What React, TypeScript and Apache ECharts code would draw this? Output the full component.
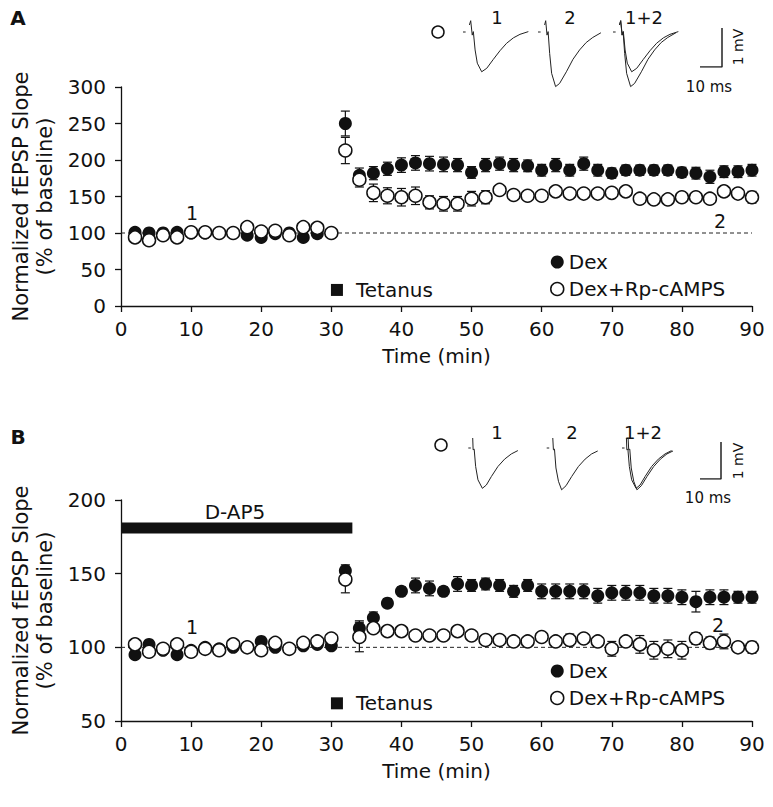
import React, { useEffect, useRef } from "react";
import * as echarts from "echarts";

const FONT = "'DejaVu Sans', 'Liberation Sans', Arial, sans-serif";

// time points (min)
const timePoints = [2, 4, 6, 8, 10, 12, 14, 16, 18, 20, 22, 24, 26, 28, 30, 32, 34, 36, 38, 40, 42, 44, 46, 48, 50, 52, 54, 56, 58, 60, 62, 64, 66, 68, 70, 72, 74, 76, 78, 80, 82, 84, 86, 88, 90];

// Panel A
const dexA = [101, 100, 100, 101, 100, 100, 100, 100, 97, 94, 99, 100, 94, 99, 100,
  250, 179, 182, 188, 193, 196, 195, 194, 193, 183, 193, 195, 193, 192, 186, 193, 186, 195, 186, 182, 186, 186, 186, 186, 183, 182, 177, 184, 184, 186];
const dexAErr = [2, 2, 2, 2, 2, 2, 2, 2, 2, 2, 2, 2, 2, 2, 2,
  17, 10, 9, 9, 10, 10, 10, 10, 9, 8, 9, 9, 9, 8, 8, 9, 8, 9, 8, 7, 7, 7, 7, 7, 7, 8, 9, 8, 8, 8];
const rpA = [94, 90, 97, 94, 101, 101, 100, 100, 108, 102, 103, 97, 108, 107, 100,
  213, 173, 155, 151, 149, 151, 142, 140, 140, 147, 149, 159, 152, 151, 151, 157, 154, 154, 154, 155, 157, 147, 146, 146, 149, 149, 147, 157, 154, 149];
const rpAErr = [2, 2, 2, 2, 2, 2, 2, 2, 2, 2, 2, 2, 2, 2, 2,
  18, 10, 12, 11, 12, 12, 9, 10, 10, 10, 9, 5, 5, 5, 5, 5, 5, 5, 5, 5, 5, 6, 6, 6, 6, 6, 6, 5, 6, 8];
const tetanusA = [[30.8, 22]];

// Panel B
const dexB = [95, 102, 98, 95, 98, 100, 99, 100, 100, 104, 100, 99, 101, 102, 101,
  152, 113, 120, 130, 138, 142, 140, 138, 143, 142, 143, 142, 138, 142, 138, 138, 138, 138, 135, 137, 137, 137, 135, 135, 134, 131, 134, 134, 134, 134];
const dexBErr = [2, 2, 2, 2, 2, 2, 2, 2, 2, 2, 2, 2, 2, 2, 2,
  4, 5, 4, 3, 3, 5, 5, 3, 5, 4, 4, 4, 4, 4, 5, 5, 5, 5, 5, 5, 5, 5, 5, 5, 5, 7, 5, 5, 4, 4];
const rpB = [102, 97, 99, 102, 97, 99, 98, 102, 100, 98, 103, 99, 103, 104, 106,
  146, 107, 113, 111, 111, 108, 108, 108, 111, 108, 105, 105, 104, 104, 107, 104, 105, 106, 104, 99, 104, 102, 98, 99, 98, 106, 103, 104, 100, 100];
const rpBErr = [2, 2, 2, 2, 2, 2, 2, 2, 2, 2, 2, 2, 2, 2, 2,
  9, 10, 3, 2, 2, 2, 2, 2, 2, 2, 2, 2, 2, 2, 2, 2, 4, 3, 3, 5, 3, 6, 6, 6, 6, 4, 4, 5, 3, 4];
const tetanusB = [[30.8, 62]];
const dap5Bar = [[0, 181], [33, 181]];

const baselineLevel = [[0, 100], [90, 100]];

// Example traces (ms, mV)
const traceDash = [[0, 0], [1.2, 0]];
const traceA1 = [[2.9, 0.18], [3.5, 0.29], [4.2, -0.08], [4.7, 0.01], [5.5, -0.46], [6.5, -0.8], [8.5, -1.02], [10.8, -0.93], [13.8, -0.7], [16.8, -0.48], [19.8, -0.29], [22.9, -0.15], [25.9, -0.06], [29.7, 0.01]];
const traceA2 = [[3.0, 0.18], [3.5, 0.29], [4.1, -0.08], [4.6, 0.01], [5.3, -0.55], [6.2, -1.06], [8.0, -1.4], [9.8, -1.32], [12.9, -1.02], [15.9, -0.7], [18.9, -0.46], [21.9, -0.27], [24.9, -0.14], [28.6, -0.02]];
const traceB1 = [[2.1, 0.27], [2.3, -0.05], [2.8, -0.03], [3.5, -0.5], [4.6, -0.86], [6.7, -1.09], [8.6, -1.0], [11, -0.77], [14.1, -0.5], [17.3, -0.3], [20.5, -0.16], [23.6, -0.07]];
const traceB2 = [[2.9, 0.27], [3.2, -0.05], [3.7, -0.03], [4.4, -0.54], [5.6, -0.9], [7.1, -1.13], [9.2, -1.02], [11.9, -0.77], [15.1, -0.5], [18.3, -0.3], [21.4, -0.16], [24.3, -0.08]];
const scaleBar = [[0, 0], [10, 0], [10, 1]];

const INK = "#111";

function pairs(t: number[], v: number[]) {
  return t.map((x, i) => [x, v[i]]);
}
function triples(t: number[], v: number[], e: number[]) {
  return t.map((x, i) => [x, v[i], e[i]]);
}

function errRender(params: any, api: any) {
  const x = api.value(0);
  const y = api.value(1);
  const e = api.value(2);
  const top = api.coord([x, y + e]);
  const bot = api.coord([x, y - e]);
  const w = 4.5;
  const style = { stroke: INK, lineWidth: 1.2 };
  return {
    type: "group",
    children: [
      { type: "line", shape: { x1: top[0], y1: top[1], x2: bot[0], y2: bot[1] }, style },
      { type: "line", shape: { x1: top[0] - w, y1: top[1], x2: top[0] + w, y2: top[1] }, style },
      { type: "line", shape: { x1: bot[0] - w, y1: bot[1], x2: bot[0] + w, y2: bot[1] }, style },
    ],
  };
}

function mainX(gridIndex: number) {
  return {
    type: "value", gridIndex, min: 0, max: 90, interval: 10,
    axisLine: { show: true, onZero: false, lineStyle: { color: INK, width: 1.3 } },
    axisTick: { show: true, length: 6, lineStyle: { color: INK, width: 1.3 } },
    axisLabel: { fontSize: 20, color: INK, margin: 13, fontFamily: FONT },
    splitLine: { show: false },
    name: "Time (min)", nameLocation: "middle", nameGap: 40,
    nameTextStyle: { fontSize: 20, color: INK, fontFamily: FONT },
  };
}
function mainY(gridIndex: number, min: number, max: number) {
  return {
    type: "value", gridIndex, min, max, interval: 50,
    axisLine: { show: true, onZero: false, lineStyle: { color: INK, width: 1.3 } },
    axisTick: { show: true, length: 6, lineStyle: { color: INK, width: 1.3 } },
    axisLabel: { fontSize: 20, color: INK, margin: 15, fontFamily: FONT },
    splitLine: { show: false },
    name: "Normalized fEPSP Slope\n(% of baseline)", nameLocation: "middle", nameGap: 56,
    nameTextStyle: { fontSize: 21, color: INK, lineHeight: 24, fontFamily: FONT },
  };
}
function hiddenAxis(gridIndex: number, min: number, max: number) {
  return { type: "value", gridIndex, min, max, show: false, splitLine: { show: false } };
}

function traceSeries(idx: number, data: number[][], width = 1) {
  return {
    type: "line", xAxisIndex: idx, yAxisIndex: idx, data, symbol: "none", silent: true,
    lineStyle: { color: "#222", width }, z: 5,
  };
}

function panelSeries(idx: number, dex: number[], dexErr: number[], rp: number[], rpErr: number[], tet: number[][]) {
  return [
    {
      type: "line", xAxisIndex: idx, yAxisIndex: idx, data: baselineLevel, symbol: "none", silent: true,
      lineStyle: { color: "#222", width: 1, type: [4, 3] }, z: 1,
    },
    {
      type: "custom", name: "errDex" + idx, xAxisIndex: idx, yAxisIndex: idx, renderItem: errRender,
      data: triples(timePoints, dex, dexErr), encode: { x: 0, y: 1 }, z: 2, silent: true,
    },
    {
      type: "scatter", name: "Dex", xAxisIndex: idx, yAxisIndex: idx, data: pairs(timePoints, dex),
      symbol: "circle", symbolSize: 13, itemStyle: { color: INK, opacity: 1 }, z: 3, silent: true,
    },
    {
      type: "custom", name: "errRp" + idx, xAxisIndex: idx, yAxisIndex: idx, renderItem: errRender,
      data: triples(timePoints, rp, rpErr), encode: { x: 0, y: 1 }, z: 4, silent: true,
    },
    {
      type: "scatter", name: "Dex+Rp-cAMPS", xAxisIndex: idx, yAxisIndex: idx, data: pairs(timePoints, rp),
      symbol: "circle", symbolSize: 13, itemStyle: { color: "#fff", borderColor: INK, borderWidth: 1.5, opacity: 1 }, z: 5, silent: true,
    },
    {
      type: "scatter", name: "Tetanus" + idx, xAxisIndex: idx, yAxisIndex: idx, data: tet,
      symbol: "rect", symbolSize: 12, itemStyle: { color: INK, opacity: 1 }, z: 5, silent: true,
      label: { show: true, position: "right", distance: 13, formatter: "Tetanus", fontSize: 20, color: INK, fontFamily: FONT },
    },
  ];
}

function txt(x: number, y: number, text: string, size: number, extra: any = {}) {
  const { style, ...rest } = extra;
  return {
    type: "text", x, y, silent: true, ...rest,
    style: { text, fill: INK, fontSize: size, fontFamily: FONT, align: "center", verticalAlign: "middle", ...(style || {}) },
  };
}

export default function App() {
  const ref = useRef<HTMLDivElement>(null);
  useEffect(() => {
    if (!ref.current) return;
    const chart = echarts.init(ref.current, null, { renderer: "svg" });

    // grids: 0 A main, 1 B main, 2-4 A traces, 5-7 B traces, 8 A scale, 9 B scale
    const grids = [
      { left: 121, top: 87, width: 631, height: 219 },
      { left: 121, top: 500, width: 631, height: 221 },
      { left: 460.8, top: 16.4, width: 70.4, height: 78 },
      { left: 535.8, top: 16.4, width: 70.4, height: 78 },
      { left: 610.8, top: 16.4, width: 70.4, height: 78 },
      { left: 466.2, top: 433.2, width: 67.2, height: 74 },
      { left: 544.6, top: 433.2, width: 67.2, height: 74 },
      { left: 619.9, top: 433.2, width: 67.2, height: 74 },
      { left: 700, top: 28, width: 22, height: 39 },
      { left: 700, top: 442, width: 21, height: 37 },
    ];
    const xAxes: any[] = [mainX(0), mainX(1)];
    const yAxes: any[] = [mainY(0, 0, 300), mainY(1, 50, 200)];
    for (let i = 2; i <= 7; i++) {
      xAxes.push(hiddenAxis(i, -1, 31));
      yAxes.push(hiddenAxis(i, -1.6, 0.4));
    }
    xAxes.push(hiddenAxis(8, 0, 10), hiddenAxis(9, 0, 10));
    yAxes.push(hiddenAxis(8, 0, 1), hiddenAxis(9, 0, 1));

    const legendData = [
      { name: "Dex", icon: "circle", itemStyle: { color: INK, opacity: 1 } },
      { name: "Dex+Rp-cAMPS", icon: "circle", itemStyle: { color: "#fff", borderColor: INK, borderWidth: 1.5, opacity: 1 } },
    ];
    const legendBase = {
      orient: "vertical", selectedMode: false, itemWidth: 13, itemHeight: 13, itemGap: 7, padding: 0,
      textStyle: { fontSize: 20, color: INK, fontFamily: FONT }, data: legendData,
    };

    const series: any[] = [
      ...panelSeries(0, dexA, dexAErr, rpA, rpAErr, tetanusA),
      ...panelSeries(1, dexB, dexBErr, rpB, rpBErr, tetanusB),
      {
        type: "line", xAxisIndex: 1, yAxisIndex: 1, data: dap5Bar, symbol: "none", silent: true,
        lineStyle: { color: INK, width: 11, cap: "butt" }, z: 6,
      },
      traceSeries(2, traceDash), traceSeries(2, traceA1),
      traceSeries(3, traceDash), traceSeries(3, traceA2),
      traceSeries(4, traceDash), traceSeries(4, traceA1), traceSeries(4, traceA2),
      traceSeries(5, traceDash), traceSeries(5, traceB1),
      traceSeries(6, traceDash), traceSeries(6, traceB2),
      traceSeries(7, traceDash), traceSeries(7, traceB1), traceSeries(7, traceB2),
      traceSeries(8, scaleBar, 1.5),
      traceSeries(9, scaleBar, 1.5),
    ];

    const graphicEls: any[] = [
      txt(18, 18, "A", 20, { style: { fontWeight: "bold" } }),
      txt(18, 437, "B", 20, { style: { fontWeight: "bold" } }),
      txt(192, 213, "1", 19),
      txt(720, 221, "2", 19),
      txt(192, 627, "1", 19),
      txt(718, 625, "2", 19),
      txt(235, 512, "D-AP5", 20),
      txt(497, 17, "1", 18), txt(570, 17, "2", 18), txt(644, 17, "1+2", 18),
      txt(497, 432, "1", 18), txt(572, 432, "2", 18), txt(643, 432, "1+2", 18),
      txt(738, 47, "1 mV", 14, { rotation: Math.PI / 2 }),
      txt(738, 461, "1 mV", 14, { rotation: Math.PI / 2 }),
      txt(709, 87, "10 ms", 15),
      txt(708, 498, "10 ms", 15),
      { type: "circle", shape: { cx: 438, cy: 32, r: 6 }, style: { fill: "#fff", stroke: INK, lineWidth: 1.5 }, silent: true },
      { type: "circle", shape: { cx: 441, cy: 445, r: 6 }, style: { fill: "#fff", stroke: INK, lineWidth: 1.5 }, silent: true },
    ];

    chart.setOption({
      animation: false,
      backgroundColor: "#fff",
      textStyle: { fontFamily: FONT },
      grid: grids,
      xAxis: xAxes,
      yAxis: yAxes,
      legend: [
        { ...legendBase, left: 550, top: 252 },
        { ...legendBase, left: 550, top: 661 },
      ],
      graphic: { elements: graphicEls },
      series,
    });
    return () => chart.dispose();
  }, []);
  return <div ref={ref} style={{ position: "fixed", left: 0, top: 0, width: 773, height: 807 }} />;
}
